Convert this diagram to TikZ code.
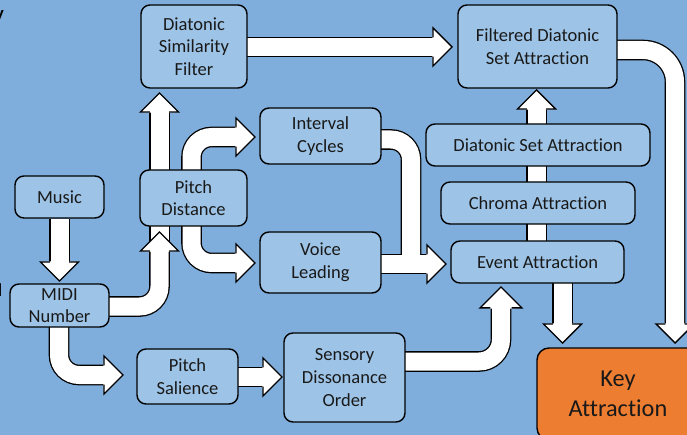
\documentclass[tikz,border=0pt]{standalone}
\usepackage{fontspec}
\setmainfont{Carlito}[Ligatures=NoCommon]
\usetikzlibrary{calc}
\definecolor{bgblue}{RGB}{127,174,220}
\definecolor{boxfill}{RGB}{157,195,230}
\definecolor{keyorange}{RGB}{237,125,49}
\pgfdeclarelayer{under}
\pgfsetlayers{under,main}
\tikzset{
  box/.style={draw=black, fill=boxfill, rounded corners=9pt, line width=1.4pt,
    align=center, inner sep=0pt, text=black!90,
    font=\fontsize{18.5}{22.6}\selectfont},
  keybox/.style={box, fill=keyorange, rounded corners=12pt,
    font=\fontsize{24.3}{29.6}\selectfont},
  shaftk/.style={draw=black, line width=20.6pt},
  shaftw/.style={draw=white, line width=18pt},
  ahead/.pic={
    \fill[white] (-19.6,9.6) -- (-19,19) -- (0,0) -- (-19,-19) -- (-19.6,-9.6) -- cycle;
    \draw[line width=1.4pt, line join=miter] (-19,9.6) -- (-19,19) -- (0,0) -- (-19,-19) -- (-19,-9.6);
  }
}
\newcommand\allshafts[1]{%
  \draw[#1] (music.south) -- ($(tA)+(0,-19)$);
  \draw[#1, rounded corners=20pt] ($(midi.east)+(-5,1)$) -| ($(tB)+(0,19)$);
  \draw[#1] ($(tB)+(0,13)$) -- ($(tC)+(0,19)$);
  \draw[#1, rounded corners=20pt] (pdj) |- ($(tD)+(-19,0)$);
  \draw[#1, rounded corners=20pt] (pdj) |- ($(tE)+(-19,0)$);
  \draw[#1, rounded corners=20pt] ($(ic.east)+(-5,3.5)$) -| (vlj);
  \draw[#1] ($(vl.east)+(-5,1.5)$) -- ($(tG)+(-19,0)$);
  \draw[#1, rounded corners=20pt] ($(midi.south)+(-0.5,-5)$) |- ($(tH)+(-19,0)$);
  \draw[#1] ($(ps.east)+(-5,0.5)$) -- ($(tI)+(-19,0)$);
  \draw[#1, rounded corners=22pt] ($(sdo.east)+(-5,-16)$) -| ($(tJ)+(0,20)$);
  \draw[#1] ($(ea.south)+(25,-5)$) -- ($(tK)+(0,-19)$);
  \draw[#1] ($(ea.north)+(-1,5)$) -- ($(tL)+(0,19)$);
  \draw[#1] ($(dsf.east)+(-5,0.5)$) -- ($(tM)+(-19,0)$);
  \draw[#1, rounded corners=32pt] ($(fdsa.east)+(-5,3.5)$) -| ($(tN)+(0,-19)$);
}
\begin{document}
\begin{tikzpicture}[x=1pt,y=-1pt]
\useasboundingbox (0,0) rectangle (687,435);
\clip (0,0) rectangle (687,435);

% boxes
\node[box, minimum width=106pt, minimum height=83pt] (dsf)  at (194,46.5)   {Diatonic\\Similarity\\Filter};
\node[box, minimum width=159pt, minimum height=83pt] (fdsa) at (537.5,46.5) {Filtered Diatonic\\Set Attraction};
\node[box, minimum width=121pt, minimum height=56pt] (ic)   at (320.5,136)  {Interval\\Cycles};
\node[box, minimum width=107pt, minimum height=56pt] (pd)   at (193.5,198)  {Pitch\\Distance};
\node[box, minimum width=121pt, minimum height=61pt] (vl)   at (320.5,262.5){Voice\\Leading};
\node[box, minimum width=224pt, minimum height=42pt] (dsa)  at (538,145)    {Diatonic Set Attraction};
\node[box, minimum width=194pt, minimum height=42pt] (ca)   at (538,203)    {Chroma Attraction};
\node[box, minimum width=173pt, minimum height=42pt] (ea)   at (537.5,262)  {Event Attraction};
\node[box, minimum width=89pt,  minimum height=42pt] (music) at (59.5,197)  {Music};
\node[box, minimum width=99pt,  minimum height=43pt] (midi) at (59.5,305.5) {MIDI\\Number};
\node[box, minimum width=101pt, minimum height=55pt] (ps)   at (187.5,376.5){Pitch\\Salience};
\node[box, minimum width=121pt, minimum height=89pt] (sdo)  at (344.5,377.5){Sensory\\Dissonance\\Order};
\node[keybox, minimum width=162pt, minimum height=92pt] (ka) at (618,394)   {Key\\Attraction};

% clipped text fragments at the left edge (cut off in the reference too)
\node[anchor=east, inner sep=0pt, font=\fontsize{18.5}{22.6}\selectfont\bfseries] (fragy) at (4,16) {y};
\node[anchor=east, inner sep=0pt, font=\fontsize{18.5}{22.6}\selectfont] (fragl) at (2.5,290) {l};

% connector coordinates
\coordinate (tA) at (59.5,281);
\coordinate (tB) at (159.5,232);
\coordinate (tC) at (159.5,93);
\coordinate (pdj) at (191.5,198);
\coordinate (tD) at (255,137);
\coordinate (tE) at (255,263);
\coordinate (vlj) at (411,264);
\coordinate (tG) at (446,264);
\coordinate (tH) at (123,375);
\coordinate (tI) at (282,377);
\coordinate (tJ) at (501,287);
\coordinate (tK) at (562.5,343);
\coordinate (tL) at (536.5,90);
\coordinate (tM) at (452,47);
\coordinate (tN) at (675,343);

\begin{pgfonlayer}{under}
  \fill[bgblue] (0,0) rectangle (687,435);
  \allshafts{shaftk}
  \allshafts{shaftw}
  \pic[rotate=-90] at (tA) {ahead};
  \pic[rotate=90]  at (tC) {ahead};
  \pic[rotate=90]  at (tB) {ahead};
  \pic at (tD) {ahead};
  \pic at (tE) {ahead};
  \pic at (tG) {ahead};
  \pic at (tH) {ahead};
  \pic at (tI) {ahead};
  \pic[rotate=90, scale=1.1] at (tJ) {ahead};
  \pic[rotate=-90] at (tK) {ahead};
  \pic[rotate=90]  at (tL) {ahead};
  \pic at (tM) {ahead};
  \pic[rotate=-90] at (tN) {ahead};
\end{pgfonlayer}
\end{tikzpicture}
\end{document}
